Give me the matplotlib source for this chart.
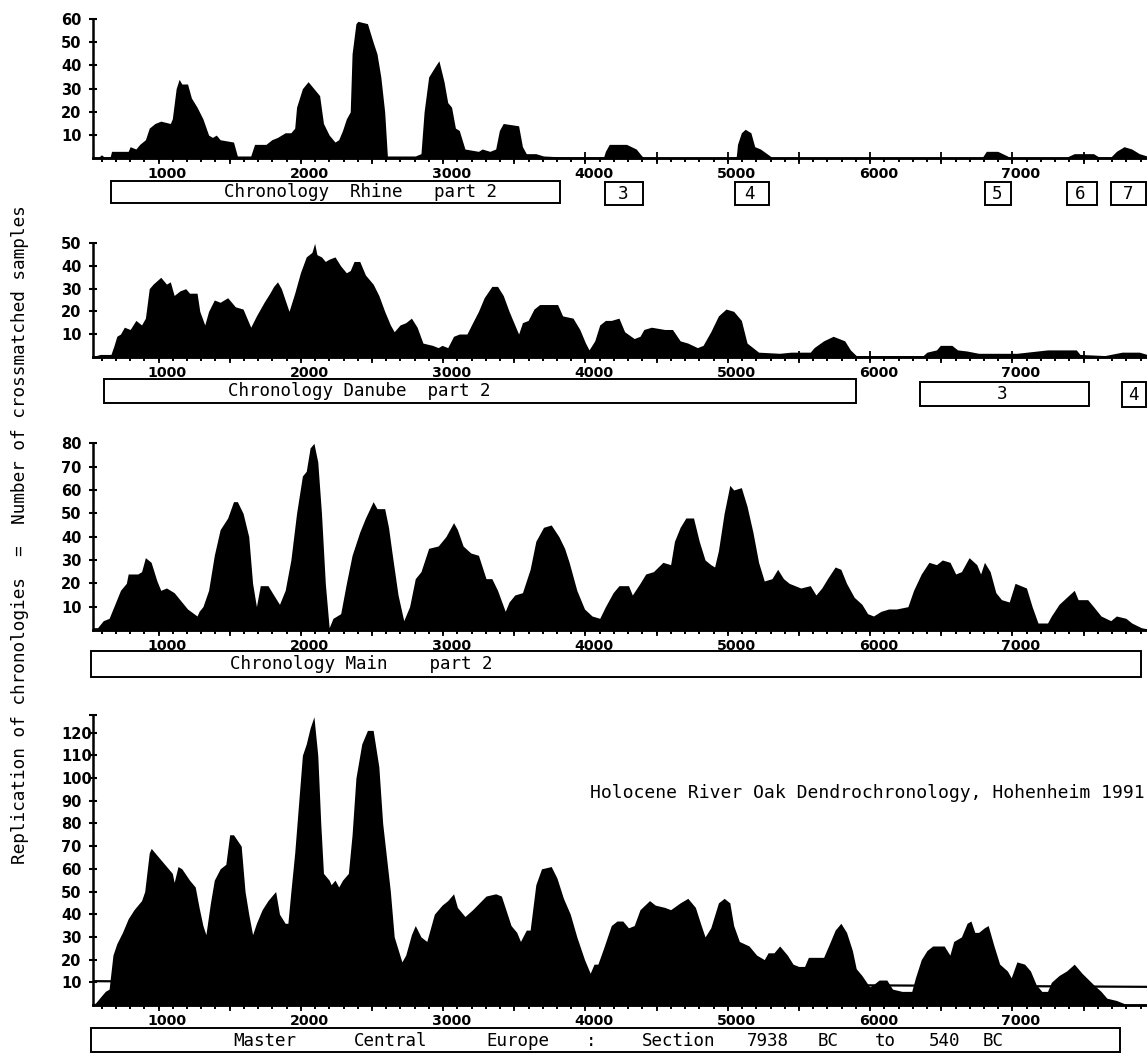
"""
Replication of the Hohenheim Holocene river-oak chronologies.
Four stacked silhouette plots (Rhine, Danube, Main, Master) sharing one year axis.
"""
import numpy as np
import matplotlib
matplotlib.use("Agg")
import matplotlib.pyplot as plt
from matplotlib.patches import Rectangle
from matplotlib.transforms import blended_transform_factory

# ── Data ───────────────────────────────────────────────────────────────────
RHINE_YEARS = [477, 520, 539, 560, 600, 610, 727, 741, 781, 808, 848, 875, 915, 956, 1023, 1037,
               1064, 1085, 1104, 1144, 1171, 1211, 1252, 1292, 1319, 1346, 1373, 1467, 1494, 1588,
               1615, 1695, 1736, 1776, 1803, 1830, 1870, 1897, 1910, 1951, 1991, 2018, 2072, 2099,
               2139, 2180, 2206, 2233, 2260, 2287, 2300, 2327, 2341, 2408, 2448, 2475, 2502, 2529,
               2548, 2744, 2784, 2806, 2838, 2878, 2910, 2946, 2972, 2999, 3026, 3053, 3093, 3188,
               3214, 3268, 3309, 3335, 3362, 3470, 3497, 3524, 3591, 3645, 3806, 4067, 4080, 4107,
               4228, 4296, 4336, 4360, 4990, 5000, 5008, 5035, 5062, 5102, 5129, 5169, 5237, 5260,
               6720, 6729, 6756, 6836, 6904, 6930, 7310, 7320, 7374, 7509, 7549, 7630, 7670, 7724,
               7778, 7831, 7885]
RHINE_COUNT = [0, 0.5, 1.5, 0.5, 0.5, 3, 3, 5, 4, 6, 8, 13, 15, 16, 15, 17,
               30, 34, 32, 32, 26, 22, 17, 10, 9, 10, 8, 7, 1, 1,
               6, 6, 8, 9, 10, 11, 11, 13, 22, 30, 33, 31, 27, 15,
               10, 7, 8, 12, 17, 20, 45, 58, 59, 58, 50, 45, 35, 20,
               1, 1, 2, 20, 35, 39, 42, 33, 24, 22, 13, 12, 4, 3,
               4, 3, 4, 12, 15, 14, 5, 2, 2, 1, 0.5, 0.5, 3, 6,
               6, 4, 1, 0, 0, 1, 6, 11, 12.5, 11, 5, 4, 1, 0,
               0, 0.5, 3, 3, 1, 0, 0, 0.5, 2, 2, 0.5, 0.5, 3, 5,
               4, 2, 1]

DANUBE_YEARS = [477, 530, 606, 628, 647, 673, 700, 741, 781, 821, 848, 875, 902, 956, 996, 1023,
                1050, 1090, 1131, 1158, 1211, 1230, 1265, 1292, 1332, 1373, 1426, 1480, 1534, 1561,
                1588, 1628, 1682, 1722, 1749, 1776, 1803, 1830, 1857, 1897, 1937, 1978, 2018, 2037,
                2053, 2085, 2112, 2139, 2180, 2220, 2260, 2287, 2314, 2354, 2394, 2448, 2488, 2529,
                2569, 2596, 2637, 2677, 2717, 2757, 2798, 2865, 2905, 2932, 2972, 3013, 3053, 3107,
                3147, 3188, 3228, 3282, 3322, 3362, 3403, 3443, 3470, 3497, 3537, 3578, 3618, 3699,
                3744, 3779, 3852, 3900, 3940, 3965, 4005, 4040, 4080, 4121, 4175, 4215, 4282, 4323,
                4350, 4403, 4497, 4551, 4605, 4659, 4726, 4766, 4820, 4874, 4927, 4981, 5035, 5075,
                5156, 5304, 5384, 5519, 5546, 5613, 5680, 5761, 5801, 5842, 6312, 6339, 6406, 6433,
                6514, 6554, 6621, 6702, 6971, 7186, 7388, 7414, 7589, 7710, 7831, 7885]
DANUBE_COUNT = [0, 1, 1, 5, 9, 10, 13, 12, 16, 14, 17, 30, 32, 35, 32, 33,
                27, 29, 30, 28, 28, 20, 14, 20, 25, 24, 26, 22, 21, 17,
                13, 18, 24, 28, 31, 33, 30, 25, 20, 28, 37, 44, 46, 50,
                45, 44, 42, 43, 44, 40, 37, 38, 42, 42, 36, 32, 27, 20,
                14, 11, 14, 15, 17, 13, 6, 5, 4, 5, 4, 9, 10, 10,
                15, 20, 26, 31, 31, 27, 20, 14, 10, 15, 16, 21, 23, 23,
                23, 18, 17, 12, 6, 3, 7, 14, 16, 16, 17, 11, 8, 9,
                12, 13, 12, 12, 7, 6, 4, 5, 11, 18, 21, 20, 16, 6,
                2, 1.5, 2, 2, 4, 7, 9, 7, 3, 0.5, 0.5, 2, 3, 5,
                5, 3, 2.5, 1.5, 1.5, 3, 3, 1, 0.5, 2, 2, 1]

MAIN_YEARS = [477, 512, 552, 593, 633, 673, 714, 727, 794, 821, 848, 888, 929, 956, 996, 1050,
              1090, 1144, 1211, 1225, 1252, 1292, 1332, 1373, 1426, 1467, 1494, 1534, 1574, 1601,
              1628, 1655, 1709, 1749, 1790, 1830, 1870, 1910, 1951, 1978, 2005, 2032, 2059, 2085,
              2112, 2139, 2166, 2220, 2260, 2300, 2354, 2394, 2448, 2475, 2502, 2529, 2556, 2583,
              2623, 2663, 2704, 2744, 2784, 2838, 2905, 2959, 3013, 3040, 3080, 3134, 3188, 3241,
              3282, 3322, 3376, 3403, 3443, 3497, 3551, 3591, 3645, 3699, 3753, 3793, 3825, 3879,
              3933, 3986, 4040, 4080, 4134, 4175, 4242, 4269, 4323, 4363, 4417, 4484, 4538, 4565,
              4605, 4645, 4699, 4739, 4780, 4820, 4847, 4874, 4914, 4954, 4981, 5035, 5075, 5116,
              5156, 5196, 5250, 5290, 5331, 5371, 5452, 5519, 5559, 5600, 5640, 5694, 5734, 5774,
              5828, 5882, 5922, 5963, 6016, 6070, 6124, 6205, 6245, 6299, 6353, 6406, 6447, 6501,
              6541, 6581, 6635, 6689, 6716, 6743, 6783, 6823, 6863, 6917, 6958, 7038, 7078, 7119,
              7186, 7213, 7267, 7320, 7374, 7401, 7468, 7509, 7562, 7630, 7670, 7737, 7778, 7845,
              7885]
MAIN_COUNT = [1, 1, 4, 5, 11, 17, 20, 24, 24, 25, 31, 29, 21, 17, 18, 16,
              13, 9, 6, 8, 10, 17, 32, 43, 48, 55, 55, 50, 40, 20,
              10, 19, 19, 15, 11, 17, 30, 50, 66, 68, 78, 80, 72, 50,
              20, 1, 5, 7, 20, 32, 42, 48, 55, 52, 52, 52, 44, 32,
              15, 4, 10, 22, 25, 35, 36, 40, 46, 43, 36, 33, 32, 22,
              22, 17, 8, 12, 15, 16, 26, 38, 44, 45, 40, 35, 29, 17,
              9, 6, 5, 10, 16, 19, 19, 15, 20, 24, 25, 29, 28, 38,
              44, 48, 48, 38, 30, 28, 27, 34, 50, 62, 60, 61, 53, 42,
              29, 21, 22, 26, 22, 20, 18, 19, 15, 18, 22, 27, 26, 20,
              14, 11, 7, 6, 8, 9, 9, 10, 17, 24, 29, 28, 30, 29,
              24, 25, 31, 28, 24, 29, 25, 16, 13, 12, 20, 18, 10, 3,
              3, 6, 11, 14, 17, 13, 13, 10, 6, 4, 6, 5, 3, 1,
              0.5]

MASTER_YEARS = [477, 499, 539, 566, 593, 620, 647, 687, 727, 768, 821, 843, 875, 889, 929, 1010,
                1037, 1050, 1077, 1104, 1158, 1198, 1225, 1252, 1273, 1305, 1332, 1373, 1413, 1440,
                1467, 1521, 1548, 1574, 1601, 1628, 1668, 1709, 1749, 1763, 1790, 1830, 1849, 1870,
                1897, 1951, 1978, 2005, 2032, 2059, 2080, 2099, 2139, 2153, 2180, 2206, 2233, 2274,
                2300, 2327, 2368, 2408, 2448, 2488, 2515, 2542, 2569, 2596, 2650, 2677, 2717, 2744,
                2784, 2825, 2878, 2932, 2972, 3013, 3040, 3093, 3147, 3241, 3309, 3349, 3417, 3457,
                3483, 3524, 3551, 3591, 3631, 3699, 3739, 3785, 3833, 3879, 3933, 3973, 4000, 4027,
                4067, 4121, 4161, 4202, 4242, 4282, 4323, 4390, 4430, 4497, 4538, 4605, 4659, 4712,
                4753, 4780, 4820, 4874, 4914, 4954, 4981, 5021, 5089, 5142, 5196, 5223, 5264, 5304,
                5358, 5398, 5438, 5479, 5506, 5613, 5654, 5694, 5734, 5774, 5815, 5842, 5882, 5936,
                5963, 6003, 6057, 6097, 6164, 6232, 6258, 6299, 6339, 6379, 6460, 6500, 6527, 6581,
                6621, 6648, 6675, 6702, 6742, 6769, 6810, 6850, 6904, 6931, 6971, 7025, 7066, 7106,
                7146, 7186, 7213, 7267, 7320, 7374, 7428, 7509, 7562, 7603, 7670, 7710, 7751, 7885]
MASTER_COUNT = [0, 1, 4, 6, 7, 22, 27, 32, 38, 42, 46, 50, 67, 69, 66, 60,
                58, 54, 61, 60, 55, 52, 43, 35, 31, 45, 55, 60, 62, 75,
                75, 70, 50, 40, 31, 36, 42, 46, 49, 50, 40, 36, 36, 50,
                67, 110, 115, 122, 127, 110, 80, 58, 55, 53, 55, 52, 55, 58,
                75, 100, 115, 121, 121, 105, 80, 65, 50, 30, 19, 22, 31, 35,
                30, 28, 40, 44, 46, 49, 43, 39, 42, 48, 49, 48, 35, 32,
                28, 33, 33, 53, 60, 61, 56, 47, 40, 30, 20, 14, 18, 18,
                25, 35, 37, 37, 34, 35, 42, 46, 44, 43, 42, 45, 47, 43,
                35, 30, 34, 45, 47, 45, 35, 28, 26, 22, 20, 23, 23, 26,
                22, 18, 17, 17, 21, 21, 27, 33, 36, 32, 24, 16, 13, 8,
                9, 11, 11, 7, 6, 6, 12, 20, 24, 26, 26, 22, 28, 30,
                36, 37, 32, 32, 34, 35, 26, 18, 15, 12, 19, 18, 15, 9,
                6, 6, 10, 13, 15, 18, 14, 9, 6, 3, 2, 1, 0, 0]

# minimum-replication reference line drawn over the master curve
THRESH_YEARS = [477, 7885]
THRESH_COUNT = [10.5, 8]

YEAR_LABELS = [1000, 2000, 3000, 4000, 5000, 6000, 7000]

YLABEL = "Replication of chronologies  =  Number of crossmatched samples"
TITLE = "Holocene River Oak Dendrochronology, Hohenheim 1991"
MASTER_WORDS = ["Master", "Central", "Europe", ":", "Section", "7938", "BC", "to", "540", "BC"]

# ── Layout (pixel geometry of the 1147 x 1055 scan) ────────────────────────
W_PX, H_PX, DPI = 1147, 1055, 100
AXIS_X_PX = 92.6
XLIM = (477, 7885)
MONO = "DejaVu Sans Mono"
TICKFONT = "DejaVu Sans"

plt.rcParams.update({
    "font.family": TICKFONT,
    "axes.linewidth": 1.8,
})


def fy(py):
    return 1 - py / H_PX


def fx(px):
    return px / W_PX


def add_box(ax, x0, x1, top, bot):
    tr = blended_transform_factory(ax.transData, ax.figure.transFigure)
    ax.add_patch(Rectangle((x0, fy(bot)), x1 - x0, fy(top) - fy(bot), transform=tr,
                           fill=False, edgecolor="black", linewidth=1.4, clip_on=False))


def add_label(ax, x, py, s, ha="center"):
    tr = blended_transform_factory(ax.transData, ax.figure.transFigure)
    ax.text(x, fy(py), s, transform=tr, ha=ha, va="center", family=MONO,
            fontsize=12.6, clip_on=False)


def make_panel(fig, top_px, bottom_px, ytop, years, counts, ycap=None):
    ax = fig.add_axes([fx(AXIS_X_PX), fy(bottom_px), 1 - fx(AXIS_X_PX),
                       (bottom_px - top_px) / H_PX])
    ax.fill_between(years, counts, 0, color="black", linewidth=0, zorder=2)
    ax.set_xlim(*XLIM)
    ax.set_ylim(0, ycap if ycap else ytop)

    ticks = list(range(10, ytop + 1, 10))
    labels = [str(t) for t in ticks]
    if ycap:
        ticks.append(ycap)
        labels.append("")
    ax.set_yticks(ticks, labels=labels)
    ax.tick_params(axis="y", direction="inout", length=6, width=1.5, pad=19.8,
                   labelsize=10.5)
    for lab in ax.get_yticklabels():
        lab.set_horizontalalignment("left")
        lab.set_fontweight("bold")

    # year labels (no mark), 100-yr minor ticks, 500-yr crossing ticks
    ax.set_xticks(YEAR_LABELS)
    ax.tick_params(axis="x", which="major", length=0, pad=6.5, labelsize=10.2)
    for lab in ax.get_xticklabels():
        lab.set_fontweight("bold")
    ax.set_xticks(np.arange(540, XLIM[1], 100), minor=True)
    ax.tick_params(axis="x", which="minor", direction="out", length=3, width=1.4)
    sec = ax.secondary_xaxis("bottom")
    sec.set_xticks(np.arange(940, XLIM[1], 500))
    sec.tick_params(direction="inout", length=9, width=1.3, labelbottom=False)

    ax.spines["top"].set_visible(False)
    ax.spines["right"].set_visible(False)
    ax.patch.set_alpha(0)
    return ax


def make_figure():
    fig = plt.figure(figsize=(W_PX / DPI, H_PX / DPI), dpi=DPI)

    # Rhine
    ax = make_panel(fig, 19, 158.3, 60, RHINE_YEARS, RHINE_COUNT)
    add_box(ax, 606, 3758, 181, 203)
    add_label(ax, 1400, 192, "Chronology  Rhine   part 2", ha="left")
    for x0, x1, tx, s in [(4075, 4344, 4201, "3"), (4987, 5230, 5089, "4"),
                          (6747, 6930, 6831, "5"), (7326, 7534, 7415, "6"),
                          (7630, 7880, 7752, "7")]:
        add_box(ax, x0, x1, 182, 205)
        add_label(ax, tx, 194, s)

    # Danube
    ax = make_panel(fig, 243.3, 356.7, 50, DANUBE_YEARS, DANUBE_COUNT)
    add_box(ax, 558, 5841, 379, 403)
    add_label(ax, 1428, 391, "Chronology Danube  part 2", ha="left")
    add_box(ax, 6290, 7474, 382, 406)
    add_label(ax, 6864, 394, "3")
    add_box(ax, 7710, 7878, 382, 407)
    add_label(ax, 7791, 395, "4")

    # Main
    ax = make_panel(fig, 443.3, 630, 80, MAIN_YEARS, MAIN_COUNT)
    add_box(ax, 466, 7840, 651, 677)
    add_label(ax, 1442, 664, "Chronology Main    part 2", ha="left")

    # Master
    ax = make_panel(fig, 714.5, 1005, 120, MASTER_YEARS, MASTER_COUNT, ycap=128)
    ax.plot(THRESH_YEARS, THRESH_COUNT, color="black", linewidth=1.6, zorder=3)
    add_box(ax, 464, 7695, 1028, 1052)
    word_x = [1688, 2574, 3466, 3979, 4597, 5222, 5644, 6044, 6466, 6803]
    for x, w in zip(word_x, MASTER_WORDS):
        add_label(ax, x, 1041, w)

    fig.text(fx(20), fy(535), YLABEL, rotation=90, ha="center", va="center",
             family=MONO, fontsize=12.8)
    fig.text(fx(1145), fy(798), TITLE, ha="right", va="baseline",
             family=MONO, fontsize=13)
    return fig


def main():
    fig = make_figure()
    fig.savefig("out.png", dpi=DPI, facecolor="white")
    plt.close(fig)


if __name__ == "__main__":
    main()
